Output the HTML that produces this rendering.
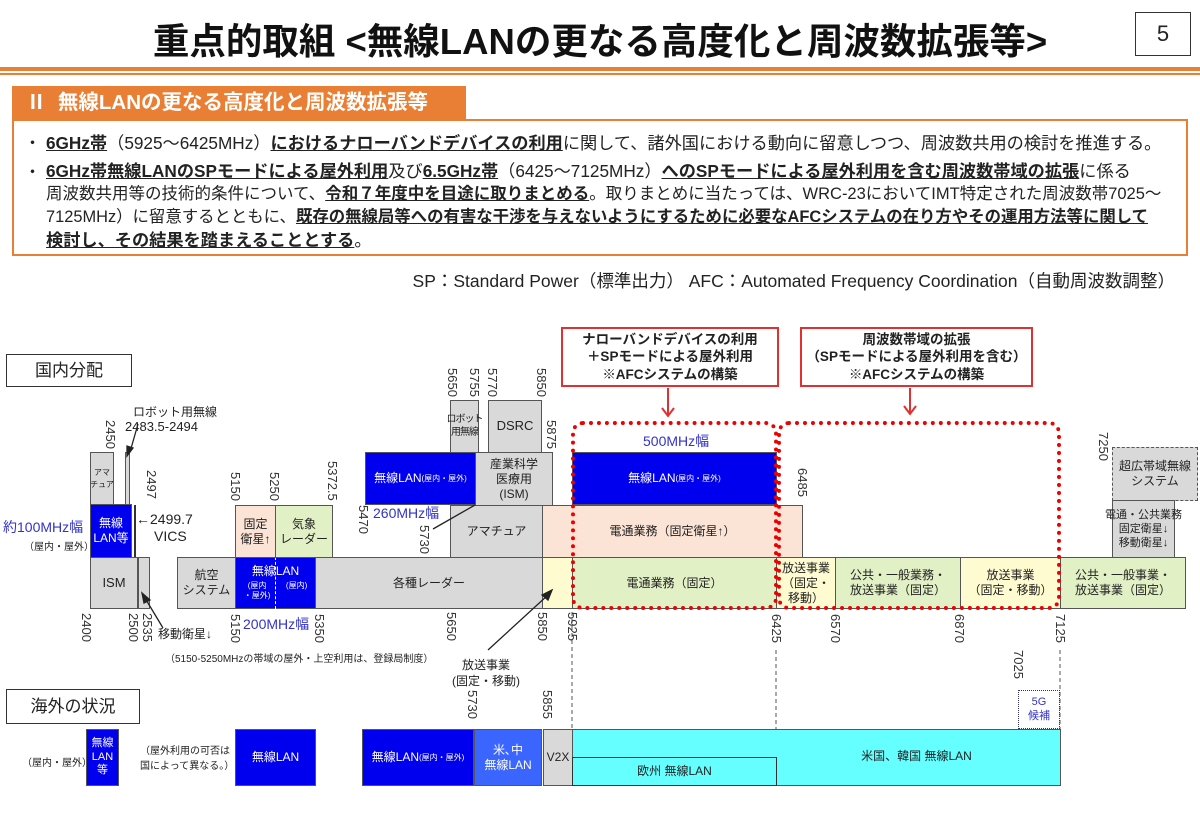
<!DOCTYPE html>
<html><head><meta charset="utf-8">
<style>
*{margin:0;padding:0;box-sizing:border-box}
body{width:1200px;height:831px;position:relative;background:#fff;font-family:"Liberation Sans","Noto Sans CJK JP",sans-serif;color:#222;overflow:hidden}
.a{position:absolute}
.b{position:absolute;border:1px solid #555;display:flex;align-items:center;justify-content:center;text-align:center;font-size:12px;line-height:1.25}
.g{background:#d9d9d9}.bl{background:#0000ee;color:#fff}.pk{background:#fbe3d6}.gr{background:#e2f0c6}.ye{background:#fffbd0}
.v{position:absolute;writing-mode:vertical-rl;font-size:13px;line-height:13px;color:#333}
.u{text-decoration:underline;font-weight:bold}
.t{position:absolute;font-size:12px;white-space:nowrap}
.blue{color:#3333cc}
.ln{position:absolute;left:46px;white-space:nowrap;line-height:23px}
</style></head><body>
<div class="a" style="left:0;width:1200px;top:12px;text-align:center;font-size:36.5px;font-weight:bold;color:#111;white-space:nowrap">重点的取組 &lt;無線LANの更なる高度化と周波数拡張等&gt;</div>
<div class="a" style="left:1135px;top:12px;width:56px;height:44px;border:1.5px solid #333;font-size:22px;text-align:center;line-height:42px">5</div>
<div class="a" style="left:0;top:67px;width:1200px;height:4px;background:#e97f35"></div>
<div class="a" style="left:0;top:73px;width:1200px;height:2px;background:#e97f35"></div>
<div class="a" style="left:12px;top:86px;width:454px;height:33px;background:#e97f35;color:#fff;font-size:20.5px;font-weight:bold;line-height:33px;padding-left:14px;white-space:nowrap">Ⅱ&nbsp; 無線LANの更なる高度化と周波数拡張等</div>
<div class="a" style="left:12px;top:119px;width:1176px;height:137px;border:2px solid #e97f35"></div>
<div class="a" style="left:24px;top:132px;font-size:17px;line-height:23px">・</div>
<div class="a" style="left:24px;top:161px;font-size:17px;line-height:23px">・</div>
<div class="ln" style="top:132px;font-size:17.2px"><span class="u">6GHz帯</span>（5925～6425MHz）<span class="u">におけるナローバンドデバイスの利用</span>に関して、諸外国における動向に留意しつつ、周波数共用の検討を推進する。</div>
<div class="ln" style="top:160px;font-size:17.2px"><span class="u">6GHz帯無線LANのSPモードによる屋外利用</span>及び<span class="u">6.5GHz帯</span>（6425～7125MHz）<span class="u">へのSPモードによる屋外利用を含む周波数帯域の拡張</span>に係る</div>
<div class="ln" style="top:183px;font-size:16.5px">周波数共用等の技術的条件について、<span class="u">令和７年度中を目途に取りまとめる</span>。取りまとめに当たっては、WRC-23においてIMT特定された周波数帯7025～</div>
<div class="ln" style="top:206px;font-size:16.4px">7125MHz）に留意するとともに、<span class="u">既存の無線局等への有害な干渉を与えないようにするために必要なAFCシステムの在り方やその運用方法等に関して</span></div>
<div class="ln" style="top:229px;font-size:17.2px"><span class="u">検討し、その結果を踏まえることとする</span>。</div>
<div class="a" style="right:25px;top:268px;font-size:17.5px;white-space:nowrap">SP：Standard Power（標準出力） AFC：Automated Frequency Coordination（自動周波数調整）</div>

<div class="b" style="left:6px;top:354px;width:126px;height:33px;font-size:17px;border:1.5px solid #333">国内分配</div>
<div class="b g" style="left:90px;top:452px;width:24px;height:53px;font-size:8px;white-space:nowrap;line-height:1.5">アマ<br>チュア</div>
<div class="b g" style="left:125px;top:452px;width:5px;height:53px"></div>
<div class="b bl" style="left:90px;top:504px;width:42px;height:54px">無線<br>LAN等</div>
<div class="a" style="left:134px;top:505px;width:2px;height:52px;background:#333"></div>
<div class="b g" style="left:90px;top:557px;width:48px;height:52px;font-size:13px">ISM</div>
<div class="b g" style="left:138px;top:557px;width:12px;height:52px"></div>
<div class="t blue" style="left:3px;top:517px;font-size:14px">約100MHz幅</div>
<div class="t" style="left:24px;top:538px;font-size:10px">（屋内・屋外）</div>
<div class="t" style="left:133px;top:403px;font-size:12px">ロボット用無線</div>
<div class="t" style="left:125px;top:419px;font-size:13px">2483.5-2494</div>
<div class="t" style="left:136px;top:511px;font-size:14px">←2499.7</div>
<div class="t" style="left:154px;top:528px;font-size:14px">VICS</div>
<div class="t" style="left:158px;top:625px;font-size:12px">移動衛星↓</div>

<div class="b g" style="left:177px;top:557px;width:59px;height:52px">航空<br>システム</div>
<div class="b bl" style="left:235px;top:557px;width:81px;height:52px;display:block;padding-top:6px;font-size:12px">無線LAN<div style="display:flex;font-size:8px;justify-content:space-around;margin-top:2px"><span>(屋内<br>・屋外)</span><span>(屋内)</span></div></div>
<div class="a" style="left:275px;top:557px;height:52px;border-left:1px dashed #fff"></div>
<div class="b g" style="left:315px;top:557px;width:228px;height:52px">各種レーダー</div>
<div class="b ye" style="left:542px;top:557px;width:31px;height:52px"></div>
<div class="b gr" style="left:572px;top:557px;width:205px;height:52px">電通業務（固定）</div>
<div class="b ye" style="left:776px;top:557px;width:60px;height:52px">放送事業<br>（固定・<br>移動）</div>
<div class="b gr" style="left:835px;top:557px;width:126px;height:52px">公共・一般業務・<br>放送事業（固定）</div>
<div class="b ye" style="left:960px;top:557px;width:101px;height:52px">放送事業<br>（固定・移動）</div>
<div class="b gr" style="left:1060px;top:557px;width:126px;height:52px">公共・一般事業・<br>放送事業（固定）</div>

<div class="b pk" style="left:235px;top:505px;width:41px;height:53px">固定<br>衛星↑</div>
<div class="b gr" style="left:275px;top:505px;width:58px;height:53px">気象<br>レーダー</div>
<div class="b g" style="left:450px;top:505px;width:93px;height:53px">アマチュア</div>
<div class="b pk" style="left:542px;top:505px;width:261px;height:53px">電通業務（固定衛星↑）</div>
<div class="b bl" style="left:365px;top:452px;width:111px;height:53px;font-size:12px">無線LAN<br><span style="font-size:8px">(屋内・屋外)</span></div>
<div class="b g" style="left:475px;top:452px;width:78px;height:54px">産業科学<br>医療用<br>(ISM)</div>
<div class="b bl" style="left:572px;top:452px;width:205px;height:53px">無線LAN <span style="font-size:8px">(屋内・屋外)</span></div>
<div class="b g" style="left:450px;top:400px;width:29px;height:53px;font-size:10px;white-space:nowrap;letter-spacing:-1px">ロボット<br>用無線</div>
<div class="b g" style="left:488px;top:400px;width:54px;height:53px;font-size:13px">DSRC</div>
<div class="b g" style="left:1112px;top:447px;width:86px;height:54px;border:1.5px dashed #555">超広帯域無線<br>システム</div>
<div class="b g" style="left:1112px;top:500px;width:63px;height:58px;font-size:11px;line-height:1.3;white-space:nowrap">電通・公共業務<br>固定衛星↓<br>移動衛星↓</div>

<div class="t blue" style="left:643px;top:431px;font-size:14px">500MHz幅</div>
<div class="t blue" style="left:373px;top:503px;font-size:14px">260MHz幅</div>
<div class="t blue" style="left:243px;top:614px;font-size:14px">200MHz幅</div>
<div class="t" style="left:165px;top:650px;font-size:10px">（5150-5250MHzの帯域の屋外・上空利用は、登録局制度）</div>
<div class="t" style="left:452px;top:657px;font-size:12px;text-align:center;line-height:16px">放送事業<br>(固定・移動)</div>

<div class="a" style="left:571px;top:421px;width:207px;height:189px;border:4px dotted #e00;border-radius:12px"></div>
<div class="a" style="left:777px;top:421px;width:284px;height:189px;border:4px dotted #e00;border-radius:12px"></div>
<div class="b" style="left:561px;top:327px;width:218px;height:60px;border:2px solid #e03030;font-weight:bold;font-size:13.5px;line-height:1.3">ナローバンドデバイスの利用<br>＋SPモードによる屋外利用<br>※AFCシステムの構築</div>
<div class="b" style="left:800px;top:327px;width:233px;height:60px;border:2px solid #e03030;font-weight:bold;font-size:13.5px;line-height:1.3">周波数帯域の拡張<br>（SPモードによる屋外利用を含む）<br>※AFCシステムの構築</div>

<svg class="a" style="left:0;top:0" width="1200" height="831">
<g stroke="#e03030" stroke-width="2" fill="none"><line x1="668" y1="388" x2="668" y2="416"/><polyline points="662,408 668,416 674,408"/><line x1="910" y1="388" x2="910" y2="414"/><polyline points="904,406 910,414 916,406"/></g>
<g stroke="#222" stroke-width="1.3" fill="#222">
<line x1="138" y1="424" x2="130" y2="452"/><polygon points="127,456 127,446 133,448"/>
<line x1="163" y1="628" x2="145" y2="598"/><polygon points="142,593 150,600 144,603"/>
<line x1="488" y1="650" x2="548" y2="595"/><polygon points="552,590 548,600 542,595"/>
<line x1="433" y1="529" x2="475" y2="505"/>
</g>
<g stroke="#555" stroke-dasharray="4,3" stroke-width="1"><line x1="572" y1="612" x2="572" y2="729"/><line x1="776" y1="650" x2="776" y2="729"/><line x1="1060" y1="650" x2="1060" y2="729"/></g>
</svg>

<div class="v" style="left:104px;top:420px">2450</div>
<div class="v" style="left:145px;top:470px">2497</div>
<div class="v" style="left:80px;top:613px">2400</div>
<div class="v" style="left:127px;top:613px">2500</div>
<div class="v" style="left:141px;top:613px">2535</div>
<div class="v" style="left:229px;top:472px">5150</div>
<div class="v" style="left:268px;top:472px">5250</div>
<div class="v" style="left:326px;top:461px">5372.5</div>
<div class="v" style="left:357px;top:505px">5470</div>
<div class="v" style="left:418px;top:525px">5730</div>
<div class="v" style="left:446px;top:368px">5650</div>
<div class="v" style="left:468px;top:368px">5755</div>
<div class="v" style="left:486px;top:368px">5770</div>
<div class="v" style="left:535px;top:368px">5850</div>
<div class="v" style="left:545px;top:420px">5875</div>
<div class="v" style="left:796px;top:468px">6485</div>
<div class="v" style="left:1097px;top:432px">7250</div>
<div class="v" style="left:229px;top:614px">5150</div>
<div class="v" style="left:313px;top:614px">5350</div>
<div class="v" style="left:445px;top:612px">5650</div>
<div class="v" style="left:536px;top:612px">5850</div>
<div class="v" style="left:566px;top:612px">5925</div>
<div class="v" style="left:770px;top:614px">6425</div>
<div class="v" style="left:829px;top:614px">6570</div>
<div class="v" style="left:953px;top:614px">6870</div>
<div class="v" style="left:1054px;top:614px">7125</div>
<div class="v" style="left:1012px;top:650px">7025</div>
<div class="v" style="left:466px;top:690px">5730</div>
<div class="v" style="left:541px;top:690px">5855</div>

<div class="b" style="left:6px;top:689px;width:134px;height:35px;font-size:17px;border:1.5px solid #333">海外の状況</div>
<div class="b" style="left:1018px;top:690px;width:42px;height:39px;border:1px dotted #336;color:#3333cc;font-size:11px">5G<br>候補</div>
<div class="b bl" style="left:86px;top:729px;width:33px;height:57px;font-size:11px">無線<br>LAN<br>等</div>
<div class="t" style="left:22px;top:754px;font-size:10px">（屋内・屋外）</div>
<div class="t" style="left:140px;top:744px;font-size:10px;line-height:15px">（屋外利用の可否は<br>国によって異なる。）</div>
<div class="b bl" style="left:235px;top:729px;width:81px;height:57px">無線LAN</div>
<div class="b bl" style="left:362px;top:729px;width:112px;height:57px">無線LAN<br><span style="font-size:8px">(屋内・屋外)</span></div>
<div class="b" style="left:474px;top:729px;width:68px;height:57px;background:#3a66ff;color:#fff">米､中<br>無線LAN</div>
<div class="b g" style="left:543px;top:729px;width:30px;height:57px">V2X</div>
<div class="b" style="left:572px;top:729px;width:489px;height:57px;background:#66ffff;padding-left:200px;padding-bottom:2px">米国、韓国 無線LAN</div>
<div class="b" style="left:572px;top:757px;width:205px;height:29px;background:#66ffff;border:1px solid #333">欧州 無線LAN</div>
</body></html>
